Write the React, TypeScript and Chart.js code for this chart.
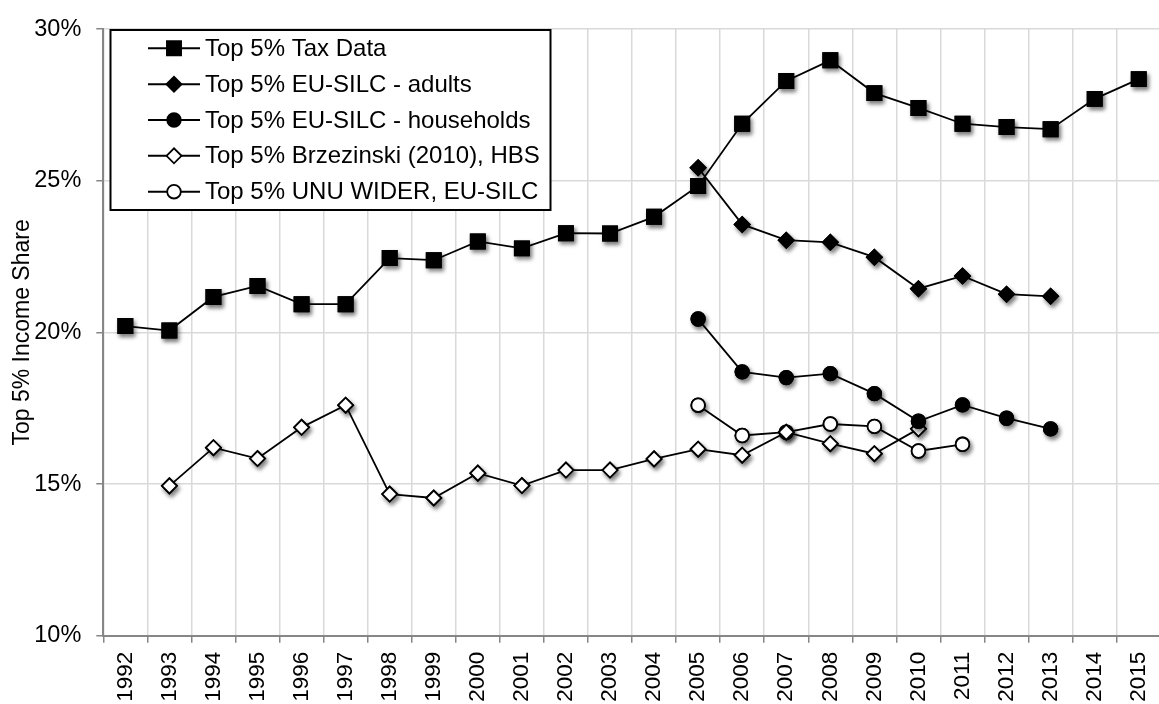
import React, { useEffect, useRef } from 'react';
import { Chart, registerables } from 'chart.js';

Chart.register(...registerables);

const years = ['1992', '1993', '1994', '1995', '1996', '1997', '1998', '1999', '2000', '2001', '2002', '2003', '2004', '2005', '2006', '2007', '2008', '2009', '2010', '2011', '2012', '2013', '2014', '2015'];

const taxData = [20.21, 20.06, 21.17, 21.53, 20.93, 20.93, 22.45, 22.38, 23.0, 22.77, 23.27, 23.26, 23.81, 24.83, 26.88, 28.29, 28.97, 27.89, 27.4, 26.88, 26.77, 26.7, 27.7, 28.35];

const silcAdults = [null, null, null, null, null, null, null, null, null, null, null, null, null, 25.43, 23.56, 23.04, 22.97, 22.48, 21.44, 21.86, 21.26, 21.19, null, null];

const silcHouseholds = [null, null, null, null, null, null, null, null, null, null, null, null, null, 20.44, 18.7, 18.51, 18.64, 17.98, 17.07, 17.61, 17.17, 16.82, null, null];

const brzezinski = [null, 14.94, 16.2, 15.84, 16.87, 17.6, 14.67, 14.54, 15.36, 14.95, 15.46, 15.46, 15.83, 16.15, 15.95, 16.71, 16.33, 16.0, 16.82, null, null, null, null, null];

const unuWider = [null, null, null, null, null, null, null, null, null, null, null, null, null, 17.6, 16.6, 16.71, 16.98, 16.9, 16.09, 16.31, null, null, null, null];

const seriesLabels = [
  'Top 5% Tax Data',
  'Top 5% EU-SILC - adults',
  'Top 5% EU-SILC - households',
  'Top 5% Brzezinski (2010), HBS',
  'Top 5% UNU WIDER, EU-SILC',
];

const yTitle = 'Top 5% Income Share';
const yMin = 10;
const yMax = 30;
const yStep = 5;

const FONT = '"Liberation Sans", Arial, sans-serif';
const CANVAS_W = 1175;
const CANVAS_H = 704;

function drawMarker(ctx: CanvasRenderingContext2D, style: string, r: number, x: number, y: number, fill: string, stroke: string, lw: number) {
  ctx.beginPath();
  if (style === 'rect') {
    const s = r * Math.SQRT1_2;
    ctx.rect(x - s, y - s, 2 * s, 2 * s);
  } else if (style === 'rectRot') {
    ctx.moveTo(x - r, y);
    ctx.lineTo(x, y - r);
    ctx.lineTo(x + r, y);
    ctx.lineTo(x, y + r);
    ctx.closePath();
  } else {
    ctx.arc(x, y, r, 0, Math.PI * 2);
  }
  ctx.fillStyle = fill;
  ctx.fill();
  ctx.strokeStyle = stroke;
  ctx.lineWidth = lw;
  ctx.stroke();
}

const shadowPlugin = {
  id: 'markerShadow',
  beforeDatasetDraw(chart: any, args: any) {
    const meta = args.meta;
    const ctx = chart.ctx as CanvasRenderingContext2D;
    const area = chart.chartArea;
    if (meta.dataset) meta.dataset.draw(ctx, area);
    ctx.save();
    ctx.shadowColor = 'rgba(0,0,0,0.5)';
    ctx.shadowBlur = 4;
    ctx.shadowOffsetX = 2;
    ctx.shadowOffsetY = 3;
    for (const p of meta.data) {
      p.draw(ctx, area);
    }
    ctx.restore();
    ctx.save();
    for (const p of meta.data) {
      p.draw(ctx, area);
    }
    ctx.restore();
    return false;
  },
};

const legendPlugin = {
  id: 'boxLegend',
  afterDraw(chart: any) {
    const ctx = chart.ctx as CanvasRenderingContext2D;
    const box = { x: 110.5, y: 30, w: 440, h: 180 };
    ctx.save();
    ctx.fillStyle = '#ffffff';
    ctx.fillRect(box.x, box.y, box.w, box.h);
    ctx.strokeStyle = '#000000';
    ctx.lineWidth = 2;
    ctx.strokeRect(box.x, box.y, box.w, box.h);
    const rowStart = 48.3;
    const rowStep = 35.85;
    chart.data.datasets.forEach((ds: any, i: number) => {
      const y = rowStart + i * rowStep;
      ctx.beginPath();
      ctx.moveTo(148, y);
      ctx.lineTo(200, y);
      ctx.strokeStyle = '#000';
      ctx.lineWidth = 2;
      ctx.stroke();
      drawMarker(ctx, ds.pointStyle, ds.pointRadius, 174, y, ds.pointBackgroundColor, '#000', ds.pointBorderWidth);
      ctx.fillStyle = '#000';
      ctx.font = `24px ${FONT}`;
      ctx.textAlign = 'left';
      ctx.textBaseline = 'middle';
      ctx.fillText(ds.label, 205, y + 1);
    });
    ctx.restore();
  },
};

function makeDataset(label: string, data: (number | null)[], style: string, radius: number, fill: string) {
  return {
    label,
    data,
    borderColor: '#000000',
    borderWidth: 1.8,
    pointStyle: style,
    pointRadius: radius,
    pointHoverRadius: radius,
    pointBackgroundColor: fill,
    pointBorderColor: '#000000',
    pointBorderWidth: 1.8,
    spanGaps: false,
    tension: 0,
    fill: false,
  };
}

export default function App() {
  const canvasRef = useRef<HTMLCanvasElement | null>(null);

  useEffect(() => {
    const canvas = canvasRef.current;
    if (!canvas) return;
    const chart = new Chart(canvas, {
      type: 'line',
      data: {
        labels: years,
        datasets: [
          makeDataset(seriesLabels[0], taxData, 'rect', 10, '#000000'),
          makeDataset(seriesLabels[1], silcAdults, 'rectRot', 7.5, '#000000'),
          makeDataset(seriesLabels[2], silcHouseholds, 'circle', 6.8, '#000000'),
          makeDataset(seriesLabels[3], brzezinski, 'rectRot', 7.5, '#ffffff'),
          makeDataset(seriesLabels[4], unuWider, 'circle', 6.8, '#ffffff'),
        ] as any,
      },
      options: {
        responsive: false,
        animation: false,
        devicePixelRatio: 1,
        layout: { padding: { left: 0, right: CANVAS_W - 1167.6, top: 22.7, bottom: 0 } },
        plugins: {
          legend: { display: false },
          tooltip: { enabled: false },
          title: { display: false },
        },
        scales: {
          x: {
            type: 'category',
            offset: true,
            grid: {
              offset: true,
              color: '#d9d9d9',
              lineWidth: 1.5,
              tickColor: '#868686',
              tickLength: 7,
              tickWidth: 1.5,
            },
            border: { color: '#868686', width: 2 },
            ticks: {
              autoSkip: false,
              minRotation: 90,
              maxRotation: 90,
              padding: 9,
              color: '#000000',
              font: { family: FONT, size: 22.5 },
            },
            afterFit: (s: any) => {
              s.height = CANVAS_H - 635.7;
            },
          },
          y: {
            min: yMin,
            max: yMax,
            grid: {
              color: '#d9d9d9',
              lineWidth: 1.5,
              tickColor: '#868686',
              tickLength: 7,
              tickWidth: 1.5,
            },
            border: { color: '#868686', width: 2 },
            ticks: {
              stepSize: yStep,
              padding: 15,
              color: '#000000',
              font: { family: FONT, size: 23.5 },
              callback: (v: any) => `${v}%`,
            },
            title: {
              display: true,
              text: yTitle,
              color: '#000000',
              font: { family: FONT, size: 23 },
              padding: { top: 9, bottom: 0 },
            },
            afterFit: (s: any) => {
              s.width = 103.3;
            },
          },
        },
      } as any,
      plugins: [shadowPlugin, legendPlugin],
    });
    return () => chart.destroy();
  }, []);

  return (
    <div style={{ position: 'fixed', left: 0, top: 0, width: 1159, height: 704, overflow: 'hidden', background: '#fff' }}>
      <canvas ref={canvasRef} width={CANVAS_W} height={CANVAS_H} style={{ display: 'block', width: CANVAS_W, height: CANVAS_H }} />
    </div>
  );
}
